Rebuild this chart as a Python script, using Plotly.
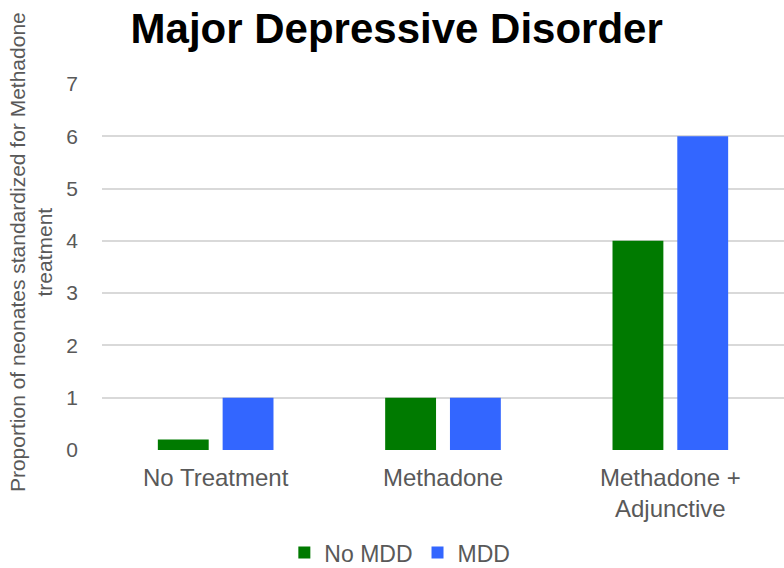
import plotly.graph_objects as go

categories = ["No Treatment", "Methadone", "Methadone +<br>Adjunctive"]
no_mdd = [0.2, 1, 4]
mdd = [1, 1, 6]
y_ticks = [0, 1, 2, 3, 4, 5, 6, 7]

FONT = "Liberation Sans, Arial, sans-serif"

fig = go.Figure()
fig.add_trace(go.Bar(x=categories, y=no_mdd, name="No MDD", marker=dict(color="#007A00", line=dict(width=0))))
fig.add_trace(go.Bar(x=categories, y=mdd, name="MDD", marker=dict(color="#3366FF", line=dict(width=0))))

fig.update_layout(
    width=784, height=568,
    margin=dict(l=102, r=0, t=84, b=118, autoexpand=False),
    paper_bgcolor="white", plot_bgcolor="white",
    font=dict(family=FONT, color="#595959"),
    barmode="group", bargap=0.43, bargroupgap=0.215,
    title=dict(text="<b>Major Depressive Disorder</b>", x=0.506, xref="container", xanchor="center",
               y=0.95, yref="container", yanchor="middle",
               font=dict(size=42, color="black", family=FONT)),
    showlegend=True,
    legend=dict(orientation="h", x=0.51, xref="container", xanchor="center", y=0.027, yref="container", yanchor="middle",
                font=dict(size=23, color="#595959"), itemwidth=30, traceorder="normal"),
    xaxis=dict(tickfont=dict(size=24, color="#595959"), showline=False, ticks="", showgrid=False,
               ticklabelstandoff=11),
    yaxis=dict(range=[0, 7], tickvals=y_ticks, tickfont=dict(size=21, color="#595959"),
               showgrid=True, gridcolor="#D9D9D9", gridwidth=1.5, zeroline=False, ticks="",
               ticklabelstandoff=23),
)

fig.add_annotation(
    text="Proportion of neonates standardized for Methadone<br>treatment",
    xref="paper", yref="paper", x=-0.104, y=0.541, xanchor="center", yanchor="middle",
    textangle=-90, showarrow=False, font=dict(size=21, color="#595959"),
)

fig.write_html("out.html", config={"displayModeBar": False},
               post_script="document.body.style.margin='0';")
